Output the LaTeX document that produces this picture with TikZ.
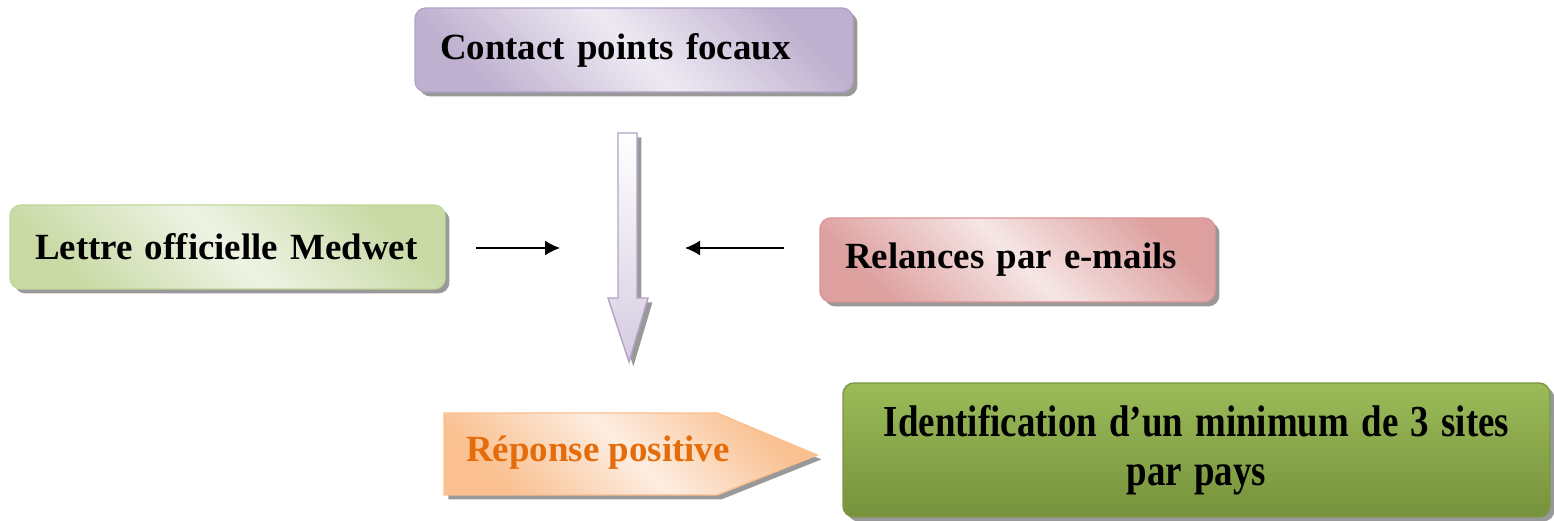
\documentclass[tikz,border=0pt]{standalone}
\usepackage{fontspec}
\setmainfont{Liberation Serif}
\usetikzlibrary{shadows,arrows.meta}

\definecolor{lilas}{HTML}{B3A2C7}
\definecolor{lilasclair}{HTML}{EEEAF3}
\definecolor{vertpale}{HTML}{C3D69B}
\definecolor{vertclair}{HTML}{EEF3E4}
\definecolor{rose}{HTML}{D99694}
\definecolor{roseclair}{HTML}{F6E6E6}
\definecolor{peche}{HTML}{FAC090}
\definecolor{pecheclair}{HTML}{FDEDE1}
\definecolor{orangetexte}{HTML}{E46C0A}
\definecolor{herbe}{HTML}{9BBB59}
\definecolor{herbefonce}{HTML}{76923C}

\begin{document}
\begin{tikzpicture}[
  ombre/.style={drop shadow={shadow xshift=2.5pt, shadow yshift=-2.5pt, opacity=0.4, fill=black}},
  boite/.style={draw, line width=0.8pt, rounded corners=0.22cm, minimum height=1.68cm,
    inner xsep=0.5cm, align=left, font=\bfseries\fontsize{21}{25}\selectfont, ombre},
  fin/.style={-{Latex[length=0.3cm,width=0.3cm]}, thick}
]
\useasboundingbox (0,0) rectangle (31.08,10.42);

% Boites du haut
\node[boite, draw=lilas, left color=lilas!85, right color=lilas!85, middle color=lilasclair,
  shading angle=135, text width=7.76cm] (contact) at (12.68,9.42) {Contact points focaux};
\node[boite, draw=vertpale, left color=vertpale!90, right color=vertpale!90, middle color=vertclair,
  shading angle=135, text width=7.7cm] (lettre) at (4.55,5.48) {Lettre officielle Medwet};
\node[boite, draw=rose, left color=rose!90, right color=rose!90, middle color=roseclair,
  shading angle=135, text width=6.9cm] (relances) at (20.35,5.22) {Relances par e-mails};

% Grande fleche
\draw[draw=lilas, line width=0.8pt, top color=white, bottom color=lilas!55, ombre]
  (12.36,7.76) -- (12.74,7.76) -- (12.74,4.46) -- (12.96,4.46) -- (12.58,3.18)
  -- (12.16,4.46) -- (12.36,4.46) -- cycle;

% Petites fleches
\coordinate (g) at (11.2,5.46);
\coordinate (d) at (13.7,5.46);
\draw[fin] ([xshift=0.6cm]lettre.east |- g) -- (g);
\draw[fin] ([xshift=-0.7cm]relances.west |- d) -- (d);

% Reponse positive
\draw[draw=peche, line width=0.8pt, left color=peche, right color=peche, middle color=pecheclair,
  shading angle=135, ombre]
  (8.88,2.16) -- (14.34,2.16) -- (16.34,1.32) -- (14.34,0.52) -- (8.88,0.52) -- cycle;
\node[anchor=west, text=orangetexte, font=\bfseries\fontsize{21}{25}\selectfont] (reponse)
  at (9.2,1.36) {Réponse positive};

% Identification
\node[boite, draw=herbe!80!black, top color=herbe, bottom color=herbefonce, align=center,
  text width=13.14cm, minimum height=2.68cm, font=\bfseries\fontsize{21}{28}\selectfont]
  (identif) at (23.93,1.42)
  {\scalebox{1}[1.2]{Identification d’un minimum de 3 sites}\\ \scalebox{1}[1.2]{par pays}};
\end{tikzpicture}
\end{document}
